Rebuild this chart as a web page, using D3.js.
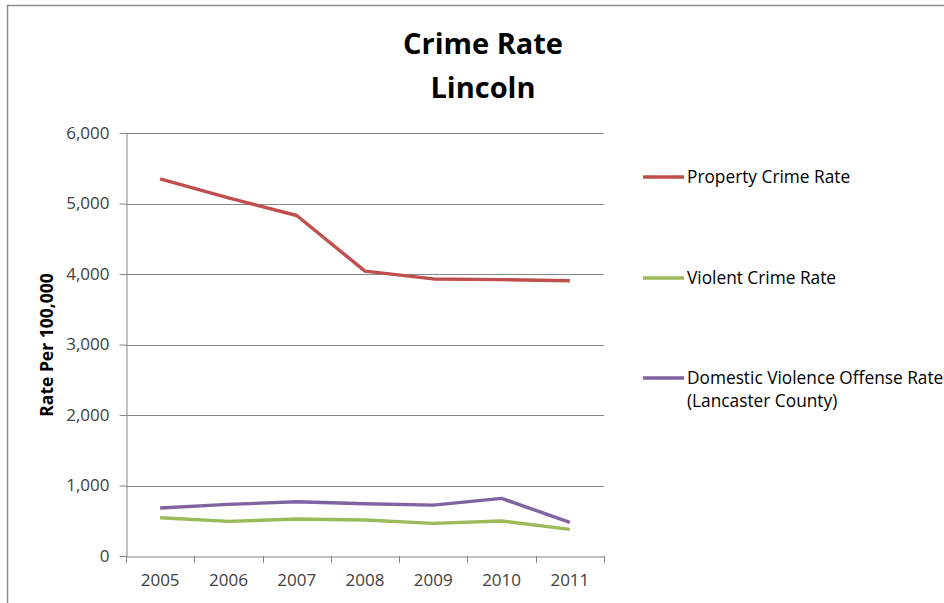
<!DOCTYPE html>
<html><head><meta charset="utf-8">
<script src="https://cdn.jsdelivr.net/npm/d3@7"></script>
<style>
html,body{margin:0;padding:0;background:#fff;}
svg{display:block;font-family:"Open Sans",sans-serif;}
</style></head>
<body><svg id="chart" width="944" height="603"></svg>
<script>
const years = ["2005","2006","2007","2008","2009","2010","2011"];
const propertyCrime = [5350, 5080, 4830, 4040, 3930, 3920, 3905];
const violentCrime = [542, 491, 524, 510, 463, 496, 378];
const domesticViolence = [680, 732, 769, 741, 722, 817, 477];
const yTicks = [0, 1000, 2000, 3000, 4000, 5000, 6000];
const seriesNames = ["Property Crime Rate", "Violent Crime Rate", "Domestic Violence Offense Rate|(Lancaster County)"];
const seriesColors = ["#C0504D", "#9BBB59", "#8064A2"];
const seriesData = [propertyCrime, violentCrime, domesticViolence];

const svg = d3.select("#chart");
svg.append("path").attr("d","M7.5,603 L7.5,5.5 L944,5.5").attr("fill","none").attr("stroke","#8c8c8c").attr("stroke-width",1.5);

const pLeft = 126, pRight = 604, pTop = 133, pBottom = 556;
const x = d3.scaleBand().domain(years).range([pLeft, pRight]);
const y = d3.scaleLinear().domain([0, 6000]).range([pBottom, pTop]);

svg.append("g").selectAll("line").data(yTicks.filter(d=>d>0)).join("line")
  .attr("x1", pLeft).attr("x2", pRight)
  .attr("y1", d=>Math.round(y(d))+0.5).attr("y2", d=>Math.round(y(d))+0.5)
  .attr("stroke","#868686").attr("stroke-width",1);

const yAxis = svg.append("g").attr("transform",`translate(${pLeft+0.5},0)`)
  .call(d3.axisLeft(y).tickValues(yTicks).tickFormat(d3.format(",")).tickSize(7).tickSizeOuter(0));
yAxis.select(".domain").attr("stroke","#868686");
yAxis.selectAll(".tick line").attr("stroke","#868686");
yAxis.selectAll(".tick text").attr("font-size",17).attr("fill","#404040").attr("font-family","Open Sans").attr("x",-17);

const xAxis = svg.append("g").attr("transform",`translate(0,${Math.round(pBottom)+0.5})`)
  .call(d3.axisBottom(x).tickSize(0).tickSizeOuter(0));
xAxis.select(".domain").attr("stroke","#868686");
xAxis.selectAll(".tick text").attr("font-size",17).attr("fill","#404040").attr("font-family","Open Sans").attr("dy","1.55em");
const bounds = years.map(d=>x(d)).concat([pRight]);
svg.append("g").selectAll("line").data(bounds).join("line")
  .attr("x1",d=>Math.round(d)+0.5).attr("x2",d=>Math.round(d)+0.5)
  .attr("y1",Math.round(pBottom)).attr("y2",Math.round(pBottom)+7)
  .attr("stroke","#868686");

const line = d3.line().x((d,i)=>x(years[i])+x.bandwidth()/2).y(d=>y(d));
seriesData.forEach((s,k)=>{
  svg.append("path").datum(s).attr("d",line).attr("fill","none")
    .attr("stroke",seriesColors[k]).attr("stroke-width",3.4).attr("stroke-linejoin","round");
});

svg.append("text").attr("x",483).attr("y",54).attr("text-anchor","middle")
  .attr("font-size",29).attr("font-weight","bold").attr("fill","#000").text("Crime Rate");
svg.append("text").attr("x",483).attr("y",98).attr("text-anchor","middle")
  .attr("font-size",29).attr("font-weight","bold").attr("fill","#000").text("Lincoln");

svg.append("text").attr("transform","translate(53,345) rotate(-90)").attr("text-anchor","middle")
  .attr("font-size",17.5).attr("font-weight","bold").attr("fill","#000").text("Rate Per 100,000");

const legY = [177, 278, 378];
seriesNames.forEach((n,k)=>{
  const g = svg.append("g");
  g.append("line").attr("x1",643).attr("x2",684).attr("y1",legY[k]).attr("y2",legY[k])
    .attr("stroke",seriesColors[k]).attr("stroke-width",3.4);
  const parts = n.split("|");
  parts.forEach((p,j)=>{
    g.append("text").attr("x",687).attr("y",legY[k]+6+j*23).attr("font-size",17.3)
      .attr("fill","#000").text(p);
  });
});
</script></body></html>
